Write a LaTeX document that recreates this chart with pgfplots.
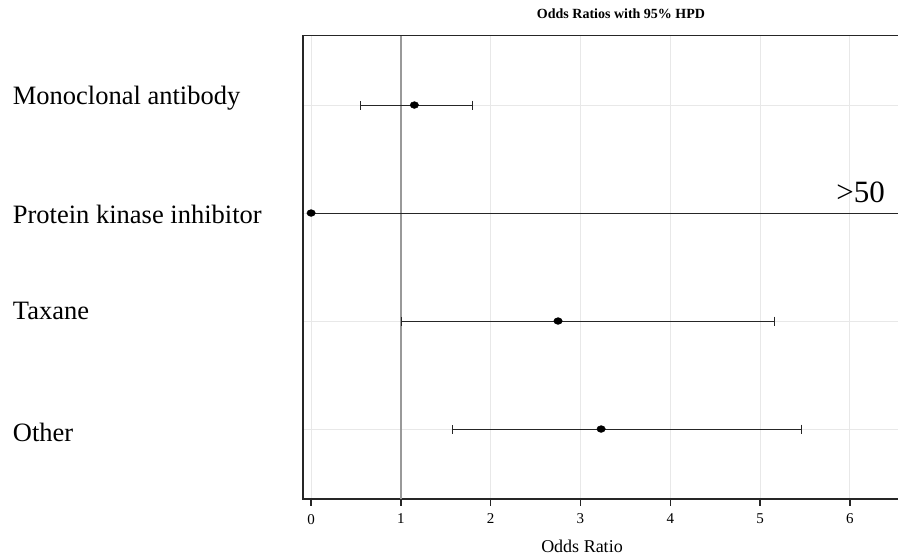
\documentclass[border=0pt]{standalone}
\usepackage{pgfplots}
\pgfplotsset{compat=1.18}
\usepackage{pgfplotstable}
\usepackage{fontspec}
\setmainfont{Liberation Serif}
\pgfplotstableread{
row or em ep
4 1.15 0.60 0.65
2 2.75 1.74 2.41
1 3.23 1.65 2.23
}\ortable
\begin{document}
\begin{tikzpicture}
\useasboundingbox (0pt,0pt) rectangle (898pt,-555pt);
\begin{axis}[
 name=ax, at={(303pt,-499pt)}, anchor=south west,
 scale only axis, width=597pt, height=463.3pt,
 xmin=-0.0902, xmax=6.558, ymin=0.352, ymax=4.642,
 axis line style={black!85, line width=1.2pt},
 xtick={0,...,6}, xtick pos=left, tick align=outside,
 major tick length=6.5pt,
 x tick style={black!85, line width=1.3pt},
 ytick={1,2,3,4}, yticklabels={}, y tick style={draw=none},
 grid=major, major grid style={black!9, line width=0.9pt},
 tick label style={font=\fontsize{15}{15}\selectfont},
 xticklabel style={yshift=-5pt},
 /pgf/number format/assume math mode=true,
]
\addplot[black!40, line width=1.2pt] coordinates {(1,0.352) (1,4.642)};
\addplot[black!85, line width=1pt] coordinates {(0,3) (50,3)};
\addplot[only marks, mark=*, mark size=3.4pt, mark options={fill=black, draw=black, xscale=1.25}] coordinates {(0,3)};
\addplot[only marks, mark=*, mark size=3.4pt, mark options={fill=black, draw=black, xscale=1.25},
  error bars/.cd, x dir=both, x explicit, error mark=|,
  error bar style={line width=1pt, black!85},
  error mark options={mark size=4.5pt, line width=1pt, black!85}]
  table[x=or, y=row, x error minus=em, x error plus=ep] {\ortable};
\pgfplotsinvokeforeach{0,...,6}{\coordinate (t#1) at (axis cs:#1,0.352);}
\end{axis}
\foreach \i in {0,...,6} {\draw[black!85, line width=1.3pt] (t\i) -- ++(0pt,-6.5pt);}
\node[anchor=base, inner sep=0, font=\bfseries\fontsize{14}{14}\selectfont] at (621pt,-18pt) {Odds Ratios with 95\% HPD};
\node[anchor=base, inner sep=0, font=\fontsize{18}{18}\selectfont] at (582pt,-552pt) {Odds Ratio};
\node[anchor=base east, inner sep=0, font=\fontsize{31}{31}\selectfont] at (885pt,-202pt) {>50};
\begin{scope}[every node/.style={anchor=base west, inner sep=0, font=\fontsize{26.5}{26.5}\selectfont}]
\node at (12.7pt,-104pt) {Monoclonal antibody};
\node at (12.7pt,-223pt) {Protein kinase inhibitor};
\node at (12.7pt,-319pt) {Taxane};
\node at (12.7pt,-441pt) {Other};
\end{scope}
\end{tikzpicture}
\end{document}
